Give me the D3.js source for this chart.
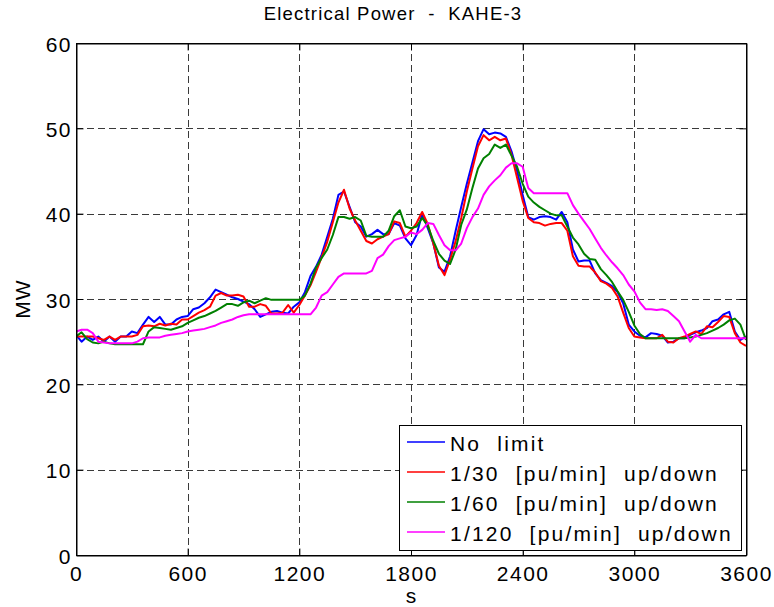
<!DOCTYPE html>
<html>
<head>
<meta charset="utf-8">
<script src="https://cdn.jsdelivr.net/npm/d3@7"></script>
<style>
  body { margin: 0; background: #fff; }
  svg { display: block; }
  text { font-family: "Liberation Sans", Arial, Helvetica, sans-serif; fill: #000; }
</style>
</head>
<body>
<svg id="chart" width="774" height="607"></svg>
<script>
// ---- data (seconds, MW) ----
const times = [
  0,30,60,90,120,150,180,210,240,270,
  300,330,360,390,420,450,480,510,540,570,
  600,630,660,690,720,750,780,810,840,870,
  900,930,960,990,1020,1050,1080,1110,1140,1170,
  1200,1230,1260,1290,1320,1350,1380,1410,1440,1470,
  1500,1530,1560,1590,1620,1650,1680,1710,1740,1770,
  1800,1830,1860,1890,1920,1950,1980,2010,2040,2070,
  2100,2130,2160,2190,2220,2250,2280,2310,2340,2370,
  2400,2430,2460,2490,2520,2550,2580,2610,2640,2670,
  2700,2730,2760,2790,2820,2850,2880,2910,2940,2970,
  3000,3030,3060,3090,3120,3150,3180,3210,3240,3270,
  3300,3330,3360,3390,3420,3450,3480,3510,3540,3570,
  3600
];

const noLimit = [
  25.8,25.0,25.6,25.2,25.6,25.0,25.6,25.0,25.6,25.6,
  26.2,26.0,27.0,27.9,27.3,27.9,27.0,27.0,27.6,27.9,
  28.0,28.8,29.0,29.5,30.2,31.1,30.8,30.5,30.2,30.0,
  29.7,29.4,28.8,27.9,28.2,28.5,28.6,28.4,28.3,29.1,
  29.6,30.8,32.7,33.8,35.2,37.3,39.4,42.2,42.6,40.8,
  39.0,38.5,37.3,37.6,38.1,37.6,37.6,38.9,38.6,37.1,
  36.3,37.5,40.0,38.3,36.5,33.7,33.2,35.0,38.0,40.8,
  43.5,46.0,48.5,49.9,49.3,49.5,49.4,49.0,47.3,45.0,
  42.2,39.6,39.3,39.6,39.7,39.6,39.3,40.2,39.0,35.8,
  34.4,34.5,34.5,33.0,32.2,31.9,31.5,30.8,29.5,27.0,
  26.2,25.7,25.5,26.0,25.9,25.7,24.9,25.0,25.4,25.4,
  25.8,26.1,26.3,26.6,27.4,27.6,28.2,28.5,26.2,25.2,
  25.6
];

const rate30 = [
  25.6,25.6,25.6,25.6,25.4,25.2,25.6,25.2,25.6,25.6,
  25.6,25.8,26.8,26.9,26.8,27.1,26.9,27.1,27.0,27.6,
  27.6,28.0,28.4,28.7,29.1,30.4,30.7,30.4,30.4,30.5,
  30.3,29.1,29.1,29.4,29.2,28.3,28.3,28.4,29.3,28.4,
  29.3,30.4,31.6,33.2,34.9,36.7,39.0,41.3,42.8,40.6,
  39.2,38.0,36.8,36.5,37.0,37.3,37.6,39.1,38.9,37.3,
  38.0,38.9,40.2,38.8,36.5,33.9,32.8,34.6,36.8,39.5,
  42.6,45.3,47.9,49.2,48.6,49.0,48.6,48.8,46.9,44.2,
  41.5,39.5,39.0,38.9,38.6,38.8,38.9,38.9,38.0,35.0,
  33.9,33.8,33.8,33.1,32.1,31.8,31.3,30.3,28.4,26.6,
  25.6,25.5,25.4,25.4,25.4,25.8,25.0,24.9,25.4,25.6,
  25.9,26.2,25.9,26.8,26.7,27.3,28.0,27.9,26.0,24.9,
  24.5
];

const rate60 = [
  25.6,26.1,25.3,24.9,24.8,25.0,24.8,24.7,24.7,24.7,
  24.7,24.7,24.7,26.2,26.7,26.6,26.5,26.4,26.6,26.8,
  27.2,27.5,27.8,28.0,28.3,28.6,29.0,29.4,29.4,29.2,
  29.6,29.8,29.5,29.8,30.1,29.9,29.9,29.9,29.9,29.9,
  29.9,30.4,31.8,33.7,34.8,35.8,37.5,39.6,39.6,39.4,
  39.6,39.2,37.4,37.3,37.3,37.3,38.0,39.7,40.4,38.5,
  38.3,38.5,39.5,38.6,36.8,35.3,34.5,34.1,35.8,38.7,
  40.5,43.0,45.3,46.5,47.0,48.1,47.7,48.1,46.8,45.5,
  43.5,42.0,41.3,40.8,40.4,40.0,39.8,39.8,38.5,37.2,
  36.4,35.3,34.7,34.6,33.5,32.8,32.0,30.9,29.9,28.5,
  26.9,25.9,25.4,25.4,25.4,25.4,25.4,25.4,25.4,25.4,
  25.5,25.6,25.8,26.0,26.3,26.6,27.0,27.5,27.7,27.0,
  25.2
];

const rate120 = [
  26.2,26.4,26.4,26.0,25.0,24.9,24.8,24.8,24.8,24.8,
  24.8,25.0,25.4,25.5,25.5,25.5,25.7,25.8,25.9,26.0,
  26.2,26.3,26.4,26.5,26.7,26.9,27.2,27.4,27.6,27.9,
  28.1,28.2,28.2,28.2,28.2,28.2,28.2,28.2,28.2,28.2,
  28.2,28.2,28.2,29.0,30.4,30.8,31.7,32.6,33.0,33.0,
  33.0,33.0,33.0,33.3,34.8,35.2,36.2,36.9,37.1,37.3,
  37.8,37.6,38.1,38.9,38.8,37.5,36.3,35.7,35.7,36.5,
  38.3,39.6,40.6,42.2,43.2,43.9,44.5,45.4,45.9,45.9,
  45.5,43.0,42.4,42.4,42.4,42.4,42.4,42.4,42.4,41.0,
  40.0,39.1,38.2,37.1,36.0,35.1,34.3,33.6,32.8,31.7,
  30.9,29.6,28.8,28.8,28.7,28.8,28.6,28.0,27.4,26.2,
  25.0,25.8,25.4,25.4,25.4,25.4,25.4,25.4,25.4,25.4,
  25.4
];

const seriesNames = ["No  limit", "1/30  [pu/min]  up/down", "1/60  [pu/min]  up/down", "1/120  [pu/min]  up/down"];
const seriesColors = ["#0000ff", "#ff0000", "#008000", "#ff00ff"];
const seriesValues = [noLimit, rate30, rate60, rate120];

const xTicks = [0, 600, 1200, 1800, 2400, 3000, 3600];
const yTicks = [0, 10, 20, 30, 40, 50, 60];

const titleText = "Electrical Power  -  KAHE-3";
const xLabelText = "s";
const yLabelText = "MW";

// ---- layout ----
const L = 76, R = 746, T = 43, B = 555;
const svg = d3.select("#chart");

const x = d3.scaleLinear().domain([0, 3600]).range([L, R]);
const y = d3.scaleLinear().domain([0, 60]).range([B, T]);

// grid
const grid = svg.append("g").attr("stroke", "#3a3a3a").attr("stroke-width", 1)
  .attr("stroke-dasharray", "7,4").attr("fill", "none");
xTicks.filter(t => t > 0 && t < 3600).forEach(t => {
  grid.append("line").attr("x1", Math.round(x(t)) + 0.5).attr("x2", Math.round(x(t)) + 0.5)
    .attr("y1", T).attr("y2", B);
});
yTicks.filter(t => t > 0 && t < 60).forEach(t => {
  grid.append("line").attr("y1", Math.round(y(t)) + 0.5).attr("y2", Math.round(y(t)) + 0.5)
    .attr("x1", L).attr("x2", R);
});

// series
svg.append("clipPath").attr("id", "plotclip").append("rect")
  .attr("x", L).attr("y", T).attr("width", R - L).attr("height", B - T);
const line = d3.line().x((d, i) => x(times[i])).y(d => y(d));
const lines = svg.append("g").attr("clip-path", "url(#plotclip)");
seriesValues.forEach((vals, k) => {
  lines.append("path").datum(vals).attr("d", line)
    .attr("fill", "none").attr("stroke", seriesColors[k]).attr("stroke-width", 2)
    .attr("stroke-linejoin", "round");
});

// axes (ticks inward, all sides)
const tickFont = { size: "21px", spacing: "1.5px" };
const axB = svg.append("g").attr("transform", `translate(0,${B + 0.5})`)
  .call(d3.axisBottom(x).tickValues(xTicks).tickSizeInner(-7).tickSizeOuter(0).tickPadding(10).tickFormat(d3.format("d")));
const axT = svg.append("g").attr("transform", `translate(0,${T + 0.5})`)
  .call(d3.axisTop(x).tickValues(xTicks).tickSizeInner(-7).tickSizeOuter(0).tickFormat(""));
const axL = svg.append("g").attr("transform", `translate(${L + 0.5},0)`)
  .call(d3.axisLeft(y).tickValues(yTicks).tickSizeInner(-7).tickSizeOuter(0).tickPadding(6).tickFormat(d3.format("d")));
const axR = svg.append("g").attr("transform", `translate(${R + 0.5},0)`)
  .call(d3.axisRight(y).tickValues(yTicks).tickSizeInner(-7).tickSizeOuter(0).tickFormat(""));
[axB, axT, axL, axR].forEach(a => {
  a.select(".domain").attr("stroke", "#000").attr("stroke-width", 1);
  a.selectAll(".tick line").attr("stroke", "#000");
});
axB.selectAll(".tick text").attr("font-size", tickFont.size).attr("letter-spacing", tickFont.spacing)
  .attr("font-family", "Liberation Sans, Arial, sans-serif").attr("fill", "#000")
  .attr("dy", null).attr("y", 25).attr("dominant-baseline", "alphabetic");
axL.selectAll(".tick text").attr("font-size", tickFont.size).attr("letter-spacing", tickFont.spacing)
  .attr("font-family", "Liberation Sans, Arial, sans-serif").attr("fill", "#000")
  .attr("dy", null).attr("y", 8).attr("x", -4.5);

// frame
svg.append("rect").attr("x", L + 0.5).attr("y", T + 0.5).attr("width", R - L).attr("height", B - T)
  .attr("fill", "none").attr("stroke", "#000").attr("stroke-width", 1);

// title & labels
svg.append("text").attr("x", 393).attr("y", 20).attr("text-anchor", "middle")
  .attr("font-size", "18.5px").attr("letter-spacing", "1.2px").style("white-space", "pre").text(titleText);
svg.append("text").attr("x", (L + R) / 2).attr("y", 603).attr("text-anchor", "middle")
  .attr("font-size", "21px").text(xLabelText);
svg.append("text").attr("transform", `translate(30,${(T + B) / 2}) rotate(-90)`).attr("text-anchor", "middle")
  .attr("font-size", "21px").attr("letter-spacing", "1px").text(yLabelText);

// legend
const lg = svg.append("g");
lg.append("rect").attr("x", 399.5).attr("y", 425.5).attr("width", 342).attr("height", 125)
  .attr("fill", "#fff").attr("stroke", "#000").attr("stroke-width", 1);
seriesNames.forEach((name, k) => {
  const ry = 442 + k * 30;
  lg.append("line").attr("x1", 407).attr("x2", 445).attr("y1", ry).attr("y2", ry)
    .attr("stroke", seriesColors[k]).attr("stroke-width", 1.3);
  lg.append("text").attr("x", 450).attr("y", ry + 8.5).attr("font-size", "21px")
    .attr("letter-spacing", "2.2px").style("white-space", "pre").text(name);
});
</script>
</body>
</html>
